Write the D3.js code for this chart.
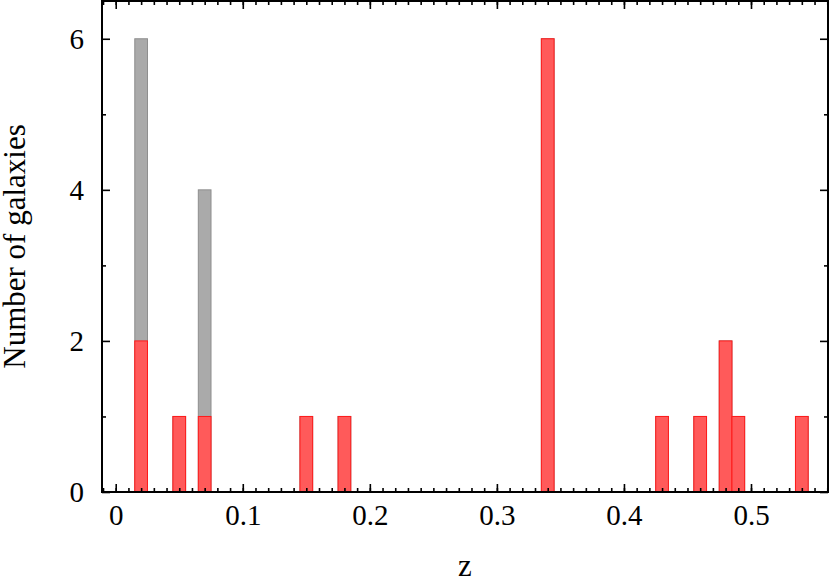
<!DOCTYPE html>
<html>
<head>
<meta charset="utf-8">
<script src="https://cdn.jsdelivr.net/npm/d3@7"></script>
<style>
  body { margin: 0; background: #fff; }
  svg { display: block; }
  text { font-family: "Liberation Serif", "DejaVu Serif", serif; fill: #000; }
</style>
</head>
<body>
<div id="chart"></div>
<script>
// redshift bins (bin centres, width 0.01)
var binCentres = [0.02, 0.05, 0.07, 0.15, 0.18, 0.34, 0.43, 0.46, 0.48, 0.49, 0.54];
// whole sample (grey) and selected sample (red)
var allCounts = [6, 1, 4, 1, 1, 6, 1, 1, 2, 1, 1];
var redCounts = [2, 1, 1, 1, 1, 6, 1, 1, 2, 1, 1];
var binWidth = 0.01;

var xMajor = [0, 0.1, 0.2, 0.3, 0.4, 0.5];
var yMajor = [0, 2, 4, 6];

let width = 830, height = 580;
let margin = {top: 1, right: 2, bottom: 88, left: 102};

let svg = d3.select('#chart').append('svg')
    .attr('width', width)
    .attr('height', height);

let x = d3.scaleLinear()
    .domain([-0.0108, 0.5606])
    .range([margin.left, width - margin.right]);
let y = d3.scaleLinear()
    .domain([0, 6.5])
    .range([height - margin.bottom, margin.top]);

let xMinor = d3.range(-1, 57).map(i => i / 100);
let yMinor = [1, 3, 5];

// bars: grey first, red on top
function drawBars(counts, cls, fill, stroke) {
    svg.append('g')
        .attr('class', cls)
        .selectAll('rect')
        .data(binCentres.map((c, i) => ({z: c, n: counts[i]})))
        .enter().append('rect')
        .attr('x', d => x(d.z - binWidth / 2))
        .attr('width', d => x(d.z + binWidth / 2) - x(d.z - binWidth / 2))
        .attr('y', d => y(d.n))
        .attr('height', d => y(0) - y(d.n))
        .style('fill', fill)
        .style('stroke', stroke)
        .style('stroke-width', 1);
}
drawBars(allCounts, 'bars-all', '#aaaaaa', '#8e8e8e');
drawBars(redCounts, 'bars-red', '#ff5a5a', '#ff1a1a');

// axes, ticks pointing inward on all four sides
let yBottom = y(0), yTop = y.range()[1];
let xLeft = x.range()[0], xRight = x.range()[1];

function styleAxis(g) {
    g.select('.domain').remove();
    g.selectAll('line').style('stroke', '#000').style('stroke-width', 1.6);
    g.selectAll('text').style('font-size', '29px');
}

svg.append('g')
    .attr('transform', `translate(0,${yBottom})`)
    .call(d3.axisBottom(x).tickValues(xMinor).tickSize(-4).tickFormat(''))
    .call(styleAxis);
svg.append('g')
    .attr('transform', `translate(0,${yBottom})`)
    .call(d3.axisBottom(x).tickValues(xMajor).tickSize(-8).tickPadding(12).tickFormat(d3.format('')))
    .call(styleAxis);
svg.append('g')
    .attr('transform', `translate(0,${yTop})`)
    .call(d3.axisTop(x).tickValues(xMinor).tickSize(-4).tickFormat(''))
    .call(styleAxis);
svg.append('g')
    .attr('transform', `translate(0,${yTop})`)
    .call(d3.axisTop(x).tickValues(xMajor).tickSize(-8).tickFormat(''))
    .call(styleAxis);

svg.append('g')
    .attr('transform', `translate(${xLeft},0)`)
    .call(d3.axisLeft(y).tickValues(yMinor).tickSize(-4).tickFormat(''))
    .call(styleAxis);
svg.append('g')
    .attr('transform', `translate(${xLeft},0)`)
    .call(d3.axisLeft(y).tickValues(yMajor).tickSize(-8).tickPadding(18).tickFormat(d3.format('d')))
    .call(styleAxis);
svg.append('g')
    .attr('transform', `translate(${xRight},0)`)
    .call(d3.axisRight(y).tickValues(yMinor).tickSize(-4).tickFormat(''))
    .call(styleAxis);
svg.append('g')
    .attr('transform', `translate(${xRight},0)`)
    .call(d3.axisRight(y).tickValues(yMajor).tickSize(-8).tickFormat(''))
    .call(styleAxis);

// frame
svg.append('rect')
    .attr('x', xLeft)
    .attr('y', yTop)
    .attr('width', xRight - xLeft)
    .attr('height', yBottom - yTop)
    .style('fill', 'none')
    .style('stroke', '#000')
    .style('stroke-width', 2);

// axis titles
svg.append('text')
    .attr('x', (xLeft + xRight) / 2)
    .attr('y', 576)
    .attr('text-anchor', 'middle')
    .style('font-size', '31px')
    .text('z');

svg.append('text')
    .attr('transform', `translate(25,${(yTop + yBottom) / 2}) rotate(-90)`)
    .attr('text-anchor', 'middle')
    .style('font-size', '31px')
    .text('Number of galaxies');
</script>
</body>
</html>
